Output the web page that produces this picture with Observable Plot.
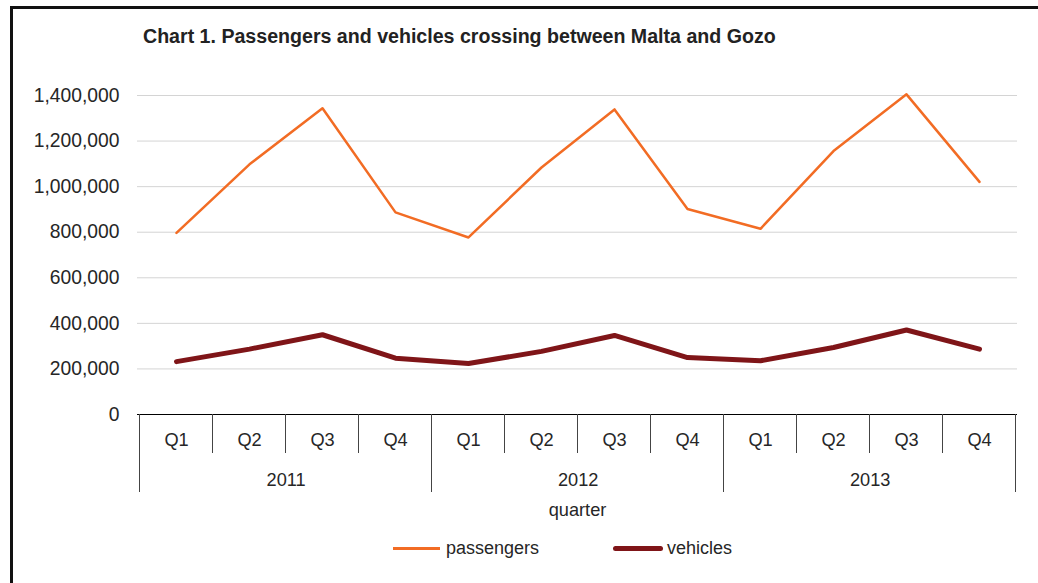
<!DOCTYPE html>
<html><head><meta charset="utf-8">
<script src="https://cdn.jsdelivr.net/npm/d3@7"></script>
<script src="https://cdn.jsdelivr.net/npm/@observablehq/plot@0.6"></script>
<style>
body{margin:0;background:#fff;font-family:"Liberation Sans",Arial,sans-serif;color:#262626}
#wrap{position:relative;width:1038px;height:583px;overflow:hidden;background:#fff}
#frame{position:absolute;left:10px;top:6px;width:1200px;height:800px;border:3px solid #111;box-sizing:border-box;pointer-events:none}
#title{position:absolute;left:143px;top:25px;font-weight:bold;font-size:19.6px;white-space:nowrap;color:#222}
#chart{position:absolute;left:0;top:0}
.leg{position:absolute;top:538px;font-size:18px;white-space:nowrap;display:flex;align-items:center}
.sw{display:inline-block;margin-right:6px}
</style></head>
<body>
<div id="wrap">
  <div id="chart"></div>
  <div id="title">Chart 1. Passengers and vehicles crossing between Malta and Gozo</div>
  <div class="leg" style="left:393px"><span class="sw" style="width:47px;height:2.5px;background:#f26c24"></span>passengers</div>
  <div class="leg" style="left:613px"><span class="sw" style="width:50px;height:5px;border-radius:3px;background:#7f1518;margin-right:4px"></span>vehicles</div>
  <div id="frame"></div>
</div>
<script>
const years = ["2011", "2012", "2013"];
const quarters = ["Q1", "Q2", "Q3", "Q4"];
const passengers = [797000, 1098000, 1344000, 887000, 777000, 1084000, 1339000, 902000, 815000, 1156000, 1405000, 1021000];
const vehicles = [232000, 287000, 350000, 247000, 224000, 277000, 347000, 250000, 236000, 294000, 371000, 287000];
const yTicks = [0, 200000, 400000, 600000, 800000, 1000000, 1200000, 1400000];

const rows = [];
years.forEach(yr => quarters.forEach(q => rows.push({key: yr + " " + q, year: yr, q})));
rows.forEach((r, i) => { r.passengers = passengers[i]; r.vehicles = vehicles[i]; });
const keys = rows.map(r => r.key);
const yearRows = years.map(yr => ({key: yr + " Q2", year: yr}));

const W = 1038, H = 583, mL = 137, mR = 21, mT = 95, mB = 169;
const step = (W - mL - mR) / keys.length;

function separators(...args) {
  const scales = args.find(a => a && typeof a.x === "function");
  const g = d3.create("svg:g").attr("stroke", "#444").attr("stroke-width", 1);
  const y0 = H - mB;
  keys.forEach((k, i) => {
    const x = Math.round(scales.x(k) - step / 2) + 0.5;
    g.append("line").attr("x1", x).attr("x2", x).attr("y1", y0).attr("y2", y0 + (i % 4 === 0 ? 78 : 39));
  });
  const xe = Math.round(scales.x(keys[keys.length - 1]) + step / 2) - 0.5;
  g.append("line").attr("x1", xe).attr("x2", xe).attr("y1", y0).attr("y2", y0 + 78);
  return g.node();
}

const plot = Plot.plot({
  width: W, height: H,
  marginLeft: mL, marginRight: mR, marginTop: mT, marginBottom: mB,
  style: {fontFamily: "'Liberation Sans', Arial, sans-serif", fontSize: "19.3px", color: "#262626", background: "transparent"},
  x: {type: "point", domain: keys, padding: 0.5, axis: null},
  y: {domain: [0, 1400000], ticks: yTicks, tickFormat: d3.format(","), tickSize: 0, tickPadding: 18, label: null},
  marks: [
    Plot.ruleY(yTicks.filter(t => t > 0), {stroke: "#d4d4d4", strokeWidth: 1}),
    Plot.ruleY([0], {stroke: "#000", strokeWidth: 1}),
    separators,
    Plot.text(rows, {x: "key", text: "q", frameAnchor: "bottom", dy: 31, fill: "#262626", fontSize: 18.2}),
    Plot.text(yearRows, {x: "key", text: "year", frameAnchor: "bottom", dy: 71, dx: step / 2, fill: "#262626", fontSize: 18.2}),
    Plot.text(["quarter"], {text: d => d, frameAnchor: "bottom", dy: 101, fill: "#262626", fontSize: 18.2}),
    Plot.line(rows, {x: "key", y: "passengers", stroke: "#f26c24", strokeWidth: 2.5}),
    Plot.line(rows, {x: "key", y: "vehicles", stroke: "#7f1518", strokeWidth: 5})
  ]
});
document.getElementById("chart").appendChild(plot);
</script>
</body></html>
